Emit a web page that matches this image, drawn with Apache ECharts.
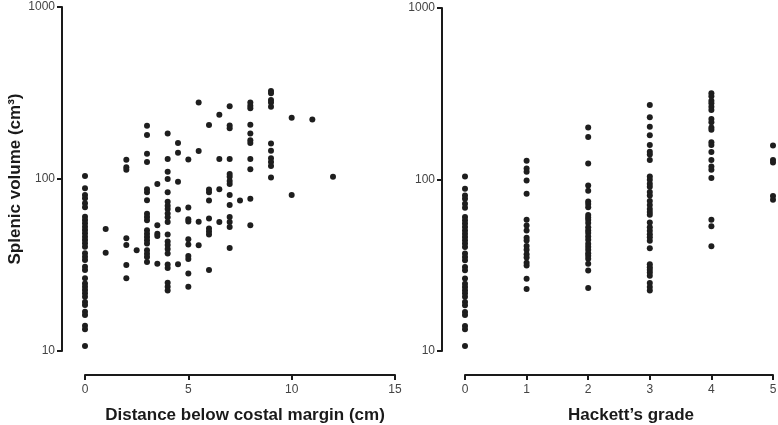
<!DOCTYPE html>
<html>
<head>
<meta charset="utf-8">
<script src="https://cdn.jsdelivr.net/npm/echarts@6/dist/echarts.min.js"></script>
<style>
html,body{margin:0;padding:0;background:#fff;}
#chart{width:778px;height:425px;}
</style>
</head>
<body>
<div id="chart"></div>
<script>
// ---- data ----
const distances = [0, 1, 2, 2.5, 3, 3.5, 4, 4.5, 5, 5.5, 6, 6.5, 7, 7.5, 8, 9, 10, 11, 12];
const volumesAtDistance = [
  [104, 88.3, 80.7, 77.2, 72.2, 68.5, 60.4, 57.8, 55.3, 52.8, 50.5, 48.3, 46.2, 44.2, 42.3, 40.4, 37.0, 35.3, 33.8, 30.9, 29.6, 26.5, 24.7, 23.6, 22.6, 21.7, 20.7, 19.3, 18.5, 16.9, 16.2, 14.0, 13.4, 10.7],
  [51.2, 37.3],
  [129.5, 117, 113, 45.2, 41.3, 31.6, 26.5],
  [38.5],
  [204, 180, 140, 125.6, 87.1, 83.7, 75.2, 62.8, 60.1, 57.5, 50.3, 48.1, 46.0, 44.0, 42.1, 38.5, 36.8, 35.2, 32.9],
  [93.5, 53.8, 48.1, 46.6, 32.2],
  [184, 130.7, 110.3, 100, 83.7, 73.8, 70.0, 66.9, 63.0, 59.9, 56.2, 47.6, 43.3, 41.3, 39.2, 36.9, 31.8, 30.4, 24.9, 23.6, 22.5],
  [162, 142, 96.4, 66.5, 31.9],
  [130, 68.3, 58.3, 56.6, 44.6, 41.6, 35.7, 34.3, 28.2, 23.6],
  [278, 145.5, 56.5, 41.2],
  [206, 86.9, 83.8, 75.0, 58.9, 51.6, 49.5, 47.6, 29.6],
  [236, 130.7, 87.2, 56.2],
  [265, 205, 197, 130.7, 107, 103, 97.4, 93.5, 80.7, 70.6, 60.1, 56.2, 52.6, 39.7],
  [75.0],
  [278, 267, 258, 207, 184, 168, 162, 130.7, 114, 76.8, 53.8],
  [325, 315, 288, 278, 263, 161, 146, 132, 125.6, 119, 102],
  [227, 80.7],
  [222],
  [103]
];
const grades = [0, 1, 2, 3, 4, 5];
const volumesAtGrade = [
  [104, 88.3, 80.7, 77.2, 72.2, 68.5, 60.4, 57.8, 55.3, 52.8, 50.5, 48.3, 46.2, 44.2, 42.3, 40.4, 37.0, 35.3, 33.8, 30.9, 29.6, 26.5, 24.7, 23.6, 22.6, 21.7, 20.7, 19.3, 18.5, 16.9, 16.2, 14.0, 13.4, 10.7],
  [128.5, 116, 111, 98.7, 82.6, 58.2, 54.0, 50.5, 45.7, 44.1, 41.0, 39.0, 36.7, 35.1, 32.7, 31.5, 26.4, 23.0],
  [201, 177, 124, 92.3, 86.0, 74.5, 71.9, 69.0, 62.0, 60.1, 58.2, 55.7, 52.6, 50.4, 48.7, 46.5, 44.6, 42.2, 40.6, 38.9, 37.2, 35.9, 34.5, 32.3, 29.5, 23.3],
  [272, 231, 203, 181, 159, 145, 140, 130, 104, 99.7, 94.4, 90.8, 84.6, 80.7, 75.0, 71.1, 67.4, 64.6, 62.2, 56.2, 52.7, 50.2, 48.0, 46.0, 44.0, 39.7, 32.1, 30.8, 29.8, 28.7, 27.5, 24.9, 23.6, 22.5],
  [318, 306, 288, 278, 266, 254, 225, 216, 201, 195, 165, 159, 144.5, 130, 119, 114, 102, 58.3, 53.3, 40.8],
  [158, 130, 125.6, 80.0, 76.2]
];
const yTickValues = [10, 100, 1000];
const leftXRange = [0, 15];
const rightXRange = [0, 5];
const leftXLabel = 'Distance below costal margin (cm)';
const rightXLabel = 'Hackett\u2019s grade';
const yLabel = 'Splenic volume (cm\u00B3)';

// ---- build points ----
function toPoints(xs, groups) {
  const pts = [];
  xs.forEach((x, i) => groups[i].forEach(v => pts.push([x, v])));
  return pts;
}
const leftPoints = toPoints(distances, volumesAtDistance);
const rightPoints = toPoints(grades, volumesAtGrade);

const FONT = '"Liberation Sans", Arial, Helvetica, sans-serif';
const lineStyle = { color: '#1a1a1a', width: 2 };
const tickLabel = { color: '#444', fontSize: 12, fontFamily: FONT };

function yAxis(gridIndex, showName) {
  return {
    type: 'log', logBase: 10, gridIndex, min: yTickValues[0], max: yTickValues[yTickValues.length - 1],
    offset: 23,
    axisLine: { show: true, onZero: false, lineStyle },
    axisTick: { show: true, length: 5, lineStyle },
    axisLabel: Object.assign({}, tickLabel, { margin: 7, formatter: v => String(Math.round(v)) }),
    splitLine: { show: false }, minorTick: { show: false },
    name: showName ? yLabel : '',
    nameLocation: 'middle', nameRotate: 90, nameGap: 38,
    nameTextStyle: { fontSize: 17, fontWeight: 'bold', color: '#1a1a1a', fontFamily: FONT }
  };
}
function xAxis(gridIndex, range, interval, name, pad) {
  return {
    type: 'value', gridIndex, min: range[0], max: range[1], interval,
    offset: 24,
    axisLine: { show: true, onZero: false, lineStyle },
    axisTick: { show: true, length: 5, lineStyle },
    axisLabel: Object.assign({}, tickLabel, { margin: 9 }),
    splitLine: { show: false },
    name, nameLocation: 'middle', nameGap: 32,
    nameTextStyle: { fontSize: 17, fontWeight: 'bold', color: '#1a1a1a', fontFamily: FONT, padding: pad }
  };
}

const chart = echarts.init(document.getElementById('chart'), null, { renderer: 'canvas' });
chart.setOption({
  animation: false,
  backgroundColor: '#fff',
  grid: [
    { left: 85, width: 310, top: 7, height: 344, outerBoundsMode: 'none', containLabel: false },
    { left: 465, width: 308, top: 8, height: 343, outerBoundsMode: 'none', containLabel: false }
  ],
  xAxis: [
    xAxis(0, leftXRange, 5, leftXLabel, [0, 0, 0, 10]),
    xAxis(1, rightXRange, 1, rightXLabel, [0, 0, 0, 24])
  ],
  yAxis: [yAxis(0, true), yAxis(1, false)],
  series: [
    { type: 'scatter', xAxisIndex: 0, yAxisIndex: 0, data: leftPoints, symbol: 'circle', symbolSize: 6,
      itemStyle: { color: '#1e1e1e', opacity: 1 } },
    { type: 'scatter', xAxisIndex: 1, yAxisIndex: 1, data: rightPoints, symbol: 'circle', symbolSize: 6,
      itemStyle: { color: '#1e1e1e', opacity: 1 } }
  ]
});
</script>
</body>
</html>
